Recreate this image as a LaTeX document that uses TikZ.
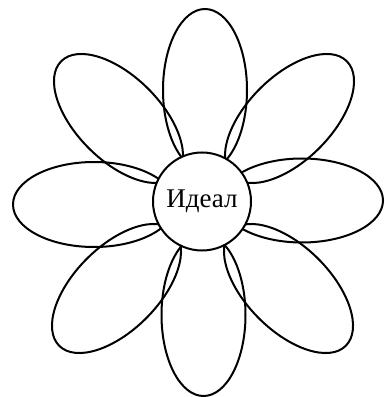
\documentclass[tikz,border=0pt]{standalone}
\usepackage{fontspec}
\setmainfont{Liberation Serif}
\usepackage{tikz}

\begin{document}
\begin{tikzpicture}[x=1pt, y=1pt, line width=2pt]
        \useasboundingbox (0, 0) rectangle (385, 397);

        % petals
        \draw (205, 307) ellipse [x radius=42, y radius=81];
        \draw (203.5, 82) ellipse [x radius=42, y radius=81];
        \draw (94, 192.5) ellipse [x radius=81, y radius=42.5];
        \draw (302, 196.5) ellipse [x radius=81, y radius=42];

        \draw[shift={(118.5, 278.5)}, rotate=-45] (0, 0) ellipse [x radius=81, y radius=42];
        \draw[shift={(289.5, 278.5)}, rotate=45] (0, 0) ellipse [x radius=81, y radius=42];
        \draw[shift={(116.5, 108.5)}, rotate=45] (0, 0) ellipse [x radius=81, y radius=42];
        \draw[shift={(288.5, 108.5)}, rotate=-45] (0, 0) ellipse [x radius=81, y radius=42];

        % centre
        \node[circle, draw, fill=white, minimum size=98pt, inner sep=0pt,
              font=\fontsize{27}{31}\selectfont] (ideal) at (202, 195.5) {Идеал};

    \end{tikzpicture}
\end{document}
